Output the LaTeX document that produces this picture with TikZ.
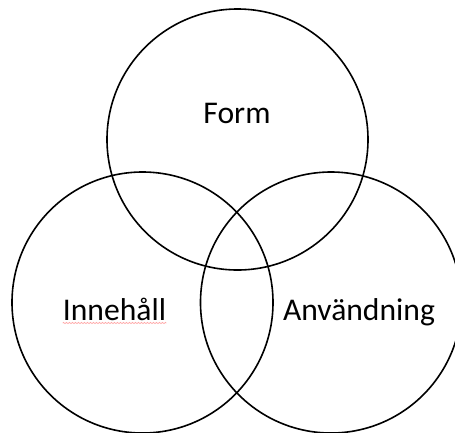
\documentclass[tikz,border=0pt]{standalone}
\usepackage{fontspec}
\setmainfont{Carlito}
\usetikzlibrary{
  positioning,
  decorations.pathmorphing
}
\tikzset{
  venn/.style     = {draw, circle, line width=1.6pt, minimum size=261pt,
                     inner sep=0pt},
  setlabel/.style = {font=\fontsize{31.6}{36}\selectfont, anchor=base,
                     inner sep=0pt},
  spell/.style    = {draw=red!35, line width=0.7pt,
                     decorate, decoration={zigzag, amplitude=0.6pt, segment length=3pt}},
}

\begin{document}
\begin{tikzpicture}[x=1pt, y=-1pt]
\useasboundingbox (0,0) rectangle (455,432);
\clip (0,0) rectangle (455,432);

\node[venn] (form) at (237.5,139.5) {};
\node[venn] (inne) at (142.5,302.5) {};
\node[venn] (anv)  at (331,302.5)   {};

\node[setlabel] (tform) at (237,123) {Form};
\node[setlabel] (tinne) at (114.5,320) {Innehåll};
\node[setlabel] (tanv)  at (359,320.5) {Användning};

\draw[spell] ([yshift=-3pt]tinne.base west) -- ([yshift=-3pt]tinne.base east);
\end{tikzpicture}
\end{document}
